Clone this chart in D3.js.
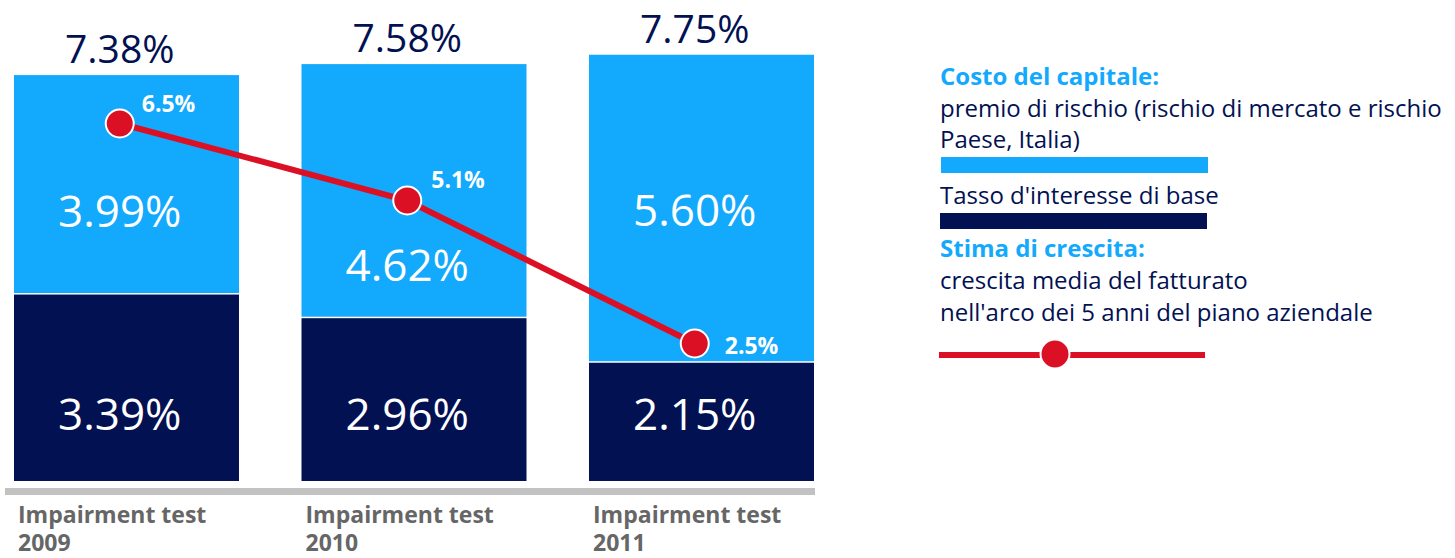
<!DOCTYPE html>
<html>
<head>
<meta charset="utf-8">
<script src="https://cdn.jsdelivr.net/npm/d3@7"></script>
<style>
	body { margin: 0; background: #fff; }
	svg { display: block; font-family: "Open Sans", "Noto Sans", sans-serif; }
</style>
</head>
<body>
<div id="chart"></div>
<script>

let categories = ['2009', '2010', '2011']
let baseRate = [3.39, 2.96, 2.15]			//	Tasso d'interesse di base
let riskPremium = [3.99, 4.62, 5.60]		//	premio di rischio
let totals = ['7.38%', '7.58%', '7.75%']
let growth = [6.5, 5.1, 2.5]				//	stima di crescita
let growthLabels = ['6.5%', '5.1%', '2.5%']

let navy = '#021152'
let blue = '#13a9fc'
let red = '#dc1024'

let width = 1455
let height = 558

let svg = d3.select('#chart').append('svg')
	.attr('width', width).attr('height', height)

let x = d3.scaleBand().domain(categories).range([14, 814]).paddingInner(0.2174).paddingOuter(0)
let y = d3.scaleLinear().domain([0, 8]).range([481, 481 - 8 * 55])
let cx = c => x(c) + x.bandwidth() * 0.47

let stack = categories.map((c, i) => ({ c, base: baseRate[i], risk: riskPremium[i], i }))

//	bars
svg.selectAll('rect.base').data(stack).enter().append('rect')
	.attr('x', d => x(d.c)).attr('width', x.bandwidth())
	.attr('y', d => y(d.base)).attr('height', d => y(0) - y(d.base))
	.attr('fill', navy)

svg.selectAll('rect.risk').data(stack).enter().append('rect')
	.attr('x', d => x(d.c)).attr('width', x.bandwidth())
	.attr('y', d => y(d.base + d.risk)).attr('height', d => y(d.base) - y(d.base + d.risk) - 1.5)
	.attr('fill', blue)

//	baseline
svg.append('rect').attr('x', 5).attr('y', 488).attr('width', 810).attr('height', 7).attr('fill', '#c2c2c2')

//	totals
svg.selectAll('text.total').data(stack).enter().append('text')
	.attr('x', d => cx(d.c)).attr('y', d => y(d.base + d.risk) - 12)
	.attr('text-anchor', 'middle').attr('font-size', 39).attr('fill', navy)
	.text(d => totals[d.i])

//	segment labels
let lightDy = [42, 90, 17]
svg.selectAll('text.risk').data(stack).enter().append('text')
	.attr('x', d => cx(d.c)).attr('y', d => (y(d.base) + y(d.base + d.risk)) / 2 + lightDy[d.i])
	.attr('text-anchor', 'middle').attr('font-size', 44).attr('fill', '#fff')
	.text(d => d.risk.toFixed(2) + '%')

svg.selectAll('text.base').data(stack).enter().append('text')
	.attr('x', d => cx(d.c)).attr('y', y(0) - 51)
	.attr('text-anchor', 'middle').attr('font-size', 44).attr('fill', '#fff')
	.text(d => d.base.toFixed(2) + '%')

//	growth line
let pts = categories.map((c, i) => [cx(c), y(growth[i])])
svg.append('path').attr('d', d3.line()(pts))
	.attr('fill', 'none').attr('stroke', red).attr('stroke-width', 6)

svg.selectAll('circle.g').data(pts).enter().append('circle')
	.attr('cx', d => d[0]).attr('cy', d => d[1]).attr('r', 14)
	.attr('fill', red).attr('stroke', '#fff').attr('stroke-width', 2)

let labelOff = [[22, -12], [24, -13], [30, 10]]
svg.selectAll('text.g').data(pts).enter().append('text')
	.attr('x', (d, i) => d[0] + labelOff[i][0]).attr('y', (d, i) => d[1] + labelOff[i][1])
	.attr('font-size', 23).attr('font-weight', 'bold').attr('fill', '#fff')
	.text((d, i) => growthLabels[i])

//	category labels
let cat = svg.selectAll('text.cat').data(categories).enter().append('text')
	.attr('x', d => x(d) + 4).attr('y', 523)
	.attr('font-size', 23).attr('font-weight', 'bold').attr('fill', '#666')
cat.append('tspan').text('Impairment test')
cat.append('tspan').attr('x', d => x(d) + 4).attr('dy', 28).text(d => d)

//	legend
let lg = svg.append('g')
let lx = 940
let ltext = (t, yy, col, bold) => lg.append('text').attr('x', lx).attr('y', yy)
	.attr('font-size', 24).attr('fill', col).attr('font-weight', bold ? 'bold' : 'normal').text(t)

ltext('Costo del capitale:', 85, blue, true)
ltext('premio di rischio (rischio di mercato e rischio', 117, navy)
ltext('Paese, Italia)', 148, navy)
lg.append('rect').attr('x', 941).attr('y', 157).attr('width', 267).attr('height', 16).attr('fill', blue)
ltext("Tasso d'interesse di base", 204, navy)
lg.append('rect').attr('x', 940).attr('y', 213).attr('width', 267).attr('height', 16).attr('fill', navy)
ltext('Stima di crescita:', 257, blue, true)
ltext('crescita media del fatturato', 289, navy)
ltext("nell'arco dei 5 anni del piano aziendale", 321, navy)
lg.append('line').attr('x1', 939).attr('x2', 1205).attr('y1', 355).attr('y2', 355)
	.attr('stroke', red).attr('stroke-width', 6)
lg.append('circle').attr('cx', 1055).attr('cy', 354).attr('r', 14.5)
	.attr('fill', red).attr('stroke', '#fff').attr('stroke-width', 2)

</script>
</body>
</html>
